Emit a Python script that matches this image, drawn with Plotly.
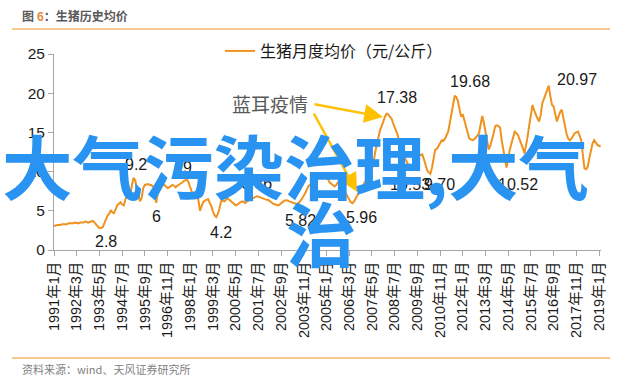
import plotly.graph_objects as go

# ---------------- data ----------------
p1991 = [3.1, 3.1, 3.2, 3.2, 3.2, 3.3, 3.3, 3.3, 3.3, 3.4, 3.4, 3.4]
p1992 = [3.4, 3.5, 3.4, 3.4, 3.5, 3.5, 3.5, 3.6, 3.6, 3.5, 3.6, 3.7]
p1993 = [3.7, 3.5, 3.2, 3.0, 2.8, 2.8, 2.9, 3.4, 4.1, 4.4, 4.6, 5.1]
p1994 = [4.8, 4.7, 5.2, 5.7, 5.9, 6.1, 5.8, 5.7, 6.4, 7.4, 7.1, 7.0]
p1995 = [8.2, 9.2, 8.9, 8.0, 7.0, 6.2, 6.6, 7.9, 8.3, 8.4, 8.4, 8.3]
p1996 = [8.3, 8.1, 7.9, 6.0, 7.3, 7.9, 8.2, 8.3, 8.3, 8.1, 7.9, 8.0]
p1997 = [8.2, 8.3, 8.2, 8.0, 8.2, 8.3, 8.4, 8.6, 8.8, 8.9, 9.0, 8.6]
p1998 = [8.0, 7.4, 7.1, 6.9, 6.8, 6.4, 5.0, 5.6, 6.1, 6.3, 6.4, 6.5]
p1999 = [6.0, 5.6, 4.9, 4.4, 4.2, 4.6, 5.3, 6.2, 6.3, 6.2, 6.4, 6.6]
p2000 = [6.4, 6.2, 6.0, 5.8, 5.7, 5.8, 6.0, 6.1, 6.2, 6.1, 6.0, 6.2]
p2001 = [6.3, 6.4, 6.5, 6.6, 6.7, 6.86, 6.8, 6.7, 6.6, 6.5, 6.5, 6.4]
p2002 = [6.4, 6.3, 6.1, 5.9, 5.8, 5.7, 5.7, 5.8, 6.0, 6.2, 6.3, 6.3]
p2003 = [6.3, 6.2, 6.1, 6.0, 5.9, 5.9, 5.82, 6.0, 6.3, 6.6, 6.9, 7.3]
p2004 = [7.8, 8.2, 8.3, 8.6, 8.8, 9.0, 9.1, 9.3, 9.5, 9.6, 9.8, 9.7]
p2005 = [9.4, 9.0, 8.6, 8.4, 8.3, 8.1, 8.3, 8.6, 8.9, 8.7, 8.2, 7.4]
p2006 = [7.2, 6.8, 6.4, 6.1, 5.96, 6.2, 6.6, 7.0, 7.3, 7.6, 8.0, 8.4]
p2007 = [8.8, 9.0, 9.2, 9.6, 10.3, 11.2, 12.5, 13.5, 14.6, 15.3, 15.8, 16.5]
p2008 = [17.0, 17.38, 17.3, 17.0, 16.8, 16.2, 15.7, 15.2, 14.6, 13.2, 12.6, 11.9]
p2009 = [11.9, 11.4, 11.0, 10.8, 10.6, 10.53, 10.9, 11.4, 11.8, 12.0, 12.1, 12.2]
p2010 = [11.6, 10.8, 10.2, 9.9, 9.70, 10.5, 11.5, 12.8, 12.9, 13.2, 13.6, 14.0]
p2011 = [13.9, 14.2, 14.6, 15.1, 16.2, 17.4, 18.8, 19.68, 19.5, 19.0, 17.9, 17.0]
p2012 = [17.3, 16.5, 15.7, 15.0, 14.2, 14.1, 14.0, 14.1, 14.3, 14.6, 14.9, 15.8]
p2013 = [17.1, 16.2, 15.0, 13.6, 12.8, 13.3, 14.0, 14.9, 15.8, 15.9, 15.8, 15.6]
p2014 = [14.0, 13.0, 11.6, 10.52, 11.8, 12.8, 13.6, 14.5, 15.1, 14.9, 14.7, 14.1]
p2015 = [13.6, 13.0, 12.3, 13.2, 14.5, 16.0, 17.5, 18.5, 17.8, 17.2, 16.8, 16.4]
p2016 = [17.2, 18.7, 19.3, 20.0, 20.5, 20.97, 19.6, 18.5, 18.3, 17.5, 16.4, 17.0]
p2017 = [17.6, 17.9, 16.8, 15.7, 14.8, 14.2, 14.0, 14.2, 14.6, 14.9, 15.0, 15.1]
p2018 = [14.6, 14.0, 12.2, 10.4, 10.3, 10.6, 11.7, 12.8, 13.6, 14.0, 13.6, 13.4]
p2019 = [13.3, 13.2]

values = (p1991 + p1992 + p1993 + p1994 + p1995 + p1996 + p1997 + p1998 + p1999
          + p2000 + p2001 + p2002 + p2003 + p2004 + p2005 + p2006 + p2007 + p2008
          + p2009 + p2010 + p2011 + p2012 + p2013 + p2014 + p2015 + p2016 + p2017
          + p2018 + p2019)
month_index = list(range(len(values)))

tick_labels = ["1991年1月", "1992年3月", "1993年5月", "1994年7月", "1995年9月",
               "1996年11月", "1998年1月", "1999年3月", "2000年5月", "2001年7月",
               "2002年9月", "2003年11月", "2005年1月", "2006年3月", "2007年5月",
               "2008年7月", "2009年9月", "2010年11月", "2012年1月", "2013年3月",
               "2014年5月", "2015年7月", "2016年9月", "2017年11月", "2019年1月"]
TICK_STEP = 14

# (point index, label text)
point_labels = [(28, "2.8"), (49, "9.2"), (63, "6"), (82, "9"), (100, "4.2"),
                (125, "6.86"), (150, "5.82"), (184, "5.96"), (205, "17.38"),
                (221, "10.53"), (232, "9.70"), (247, "19.68"), (279, "10.52"),
                (305, "20.97")]
# style offsets (xshift, yshift) in pixels
label_shifts = [(7, -13), (3, 13), (0, -14), (0, 12), (5, -15),
                (0, 13), (3, -16), (9, -14), (10, 16),
                (-3, -17), (9, -11), (15, 14), (11, -17), (28, 6)]

series_name = "生猪月度均价（元/公斤）"
title_text = "图 <span style='color:#E08A3C'>6</span>：生猪历史均价"
source_text = "资料来源：wind、天风证券研究所"
event_text = "蓝耳疫情"
overlay_line1 = "大气污染治理,大气"
overlay_line2 = "治"

# ---------------- style ----------------
LATIN = "Liberation Sans, Arial, Noto Sans CJK SC, sans-serif"
CJK = "Noto Sans CJK SC, sans-serif"
ORANGE = "#F0921E"
GOLD = "#FFC000"
BLUE = "#2893F0"
AXIS = "#A6A6A6"

W, H = 640, 386
L, R, T, B = 54, 39, 54, 136
PW, PH = W - L - R, H - T - B


def px(xp):
    return (xp - L) / PW


def py(yp):
    return (H - B - yp) / PH


fig = go.Figure()
fig.add_trace(go.Scatter(
    x=month_index, y=values, mode="lines", name=series_name,
    line=dict(color=ORANGE, width=2), hoverinfo="skip"))

annotations = []
for (idx, txt), (dx, dy) in zip(point_labels, label_shifts):
    annotations.append(dict(
        x=month_index[idx], y=values[idx], xref="x", yref="y", text=txt,
        showarrow=False, xshift=dx, yshift=dy,
        font=dict(family=LATIN, size=16, color="#1a1a1a")))

# title / source
annotations.append(dict(x=px(20), y=py(16), xref="paper", yref="paper",
                        xanchor="left", yanchor="middle", showarrow=False,
                        text="<b>" + title_text + "</b>",
                        font=dict(family=CJK, size=12, color="#595959")))
annotations.append(dict(x=px(20), y=py(369), xref="paper", yref="paper",
                        xanchor="left", yanchor="middle", showarrow=False,
                        text=source_text,
                        font=dict(family=CJK, size=11, color="#7F7F7F")))
# event text + arrows
annotations.append(dict(x=px(270), y=py(103), xref="paper", yref="paper",
                        xanchor="center", yanchor="middle", showarrow=False,
                        text=event_text,
                        font=dict(family=CJK, size=19, color="#595959")))
annotations.append(dict(x=px(383), y=py(117), xref="paper", yref="paper",
                        ax=-70, ay=-13, text="", showarrow=True,
                        arrowcolor=GOLD, arrowwidth=2.5, arrowhead=2,
                        arrowsize=1.5, standoff=0))
annotations.append(dict(x=px(357), y=py(192), xref="paper", yref="paper",
                        ax=-44, ay=-80, text="", showarrow=True,
                        arrowcolor=GOLD, arrowwidth=2.5, arrowhead=2,
                        arrowsize=1.5, standoff=0))
# overlay text
annotations.append(dict(x=px(0), y=py(164), xref="paper", yref="paper",
                        xanchor="left", yanchor="middle", showarrow=False,
                        text=overlay_line1,
                        font=dict(family=CJK, size=70.5, color=BLUE, weight=700)))
annotations.append(dict(x=px(321), y=py(231), xref="paper", yref="paper",
                        xanchor="center", yanchor="middle", showarrow=False,
                        text=overlay_line2,
                        font=dict(family=CJK, size=70.5, color=BLUE, weight=700)))

shapes = [
    dict(type="line", xref="paper", yref="paper", x0=px(12), x1=px(610),
         y0=py(29), y1=py(29), line=dict(color=ORANGE, width=1.2)),
    dict(type="line", xref="paper", yref="paper", x0=px(12), x1=px(610),
         y0=py(358), y1=py(358), line=dict(color=ORANGE, width=1.2)),
]

fig.update_layout(
    width=W, height=H,
    margin=dict(l=L, r=R, t=T, b=B, pad=0),
    paper_bgcolor="white", plot_bgcolor="white",
    showlegend=True,
    legend=dict(orientation="h", x=px(220), y=py(51), xanchor="left",
                yanchor="middle", bgcolor="rgba(0,0,0,0)",
                font=dict(family=CJK, size=16, color="#1a1a1a"),
                itemwidth=30),
    xaxis=dict(range=[0, 337.2], showgrid=False, zeroline=False,
               showline=True, linecolor=AXIS, linewidth=1,
               ticks="outside", ticklen=5, tickcolor=AXIS,
               tickvals=[i * TICK_STEP for i in range(len(tick_labels))],
               ticktext=tick_labels, tickangle=-90,
               tickfont=dict(family=LATIN, size=14.5, color="#1a1a1a")),
    yaxis=dict(range=[0, 25], dtick=5, showgrid=False, zeroline=False,
               showline=True, linecolor=AXIS, linewidth=1,
               ticks="outside", ticklen=5, tickcolor=AXIS,
               tickfont=dict(family=LATIN, size=15.5, color="#1a1a1a")),
    annotations=annotations,
    shapes=shapes,
)

fig.write_html("out.html")
